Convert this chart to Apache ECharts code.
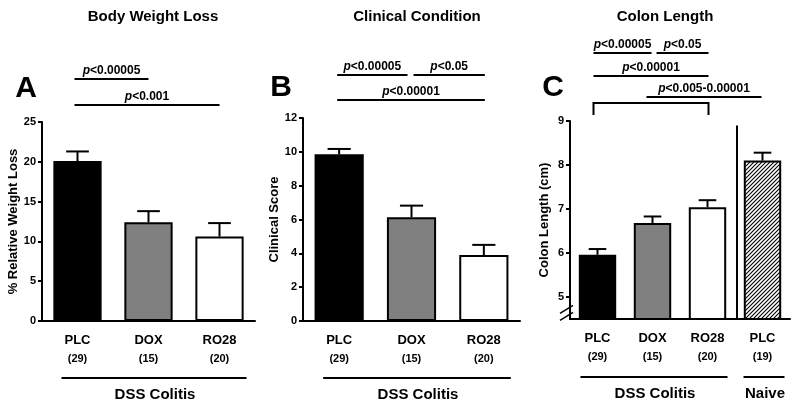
<!DOCTYPE html>
<html><head><meta charset="utf-8">
<script src="https://cdn.jsdelivr.net/npm/echarts@6/dist/echarts.min.js"></script>
<style>html,body{margin:0;padding:0;background:#fff}#main{width:800px;height:410px}</style>
</head><body><div id="main"></div>
<script>
// ---------- data ----------
const catsAB = ['PLC', 'DOX', 'RO28'];
const nAB = ['29', '15', '20'];
const weightLoss = [20.1, 12.4, 10.6];
const weightLossSem = [1.2, 1.4, 1.7];
const clinicalScore = [9.85, 6.13, 3.9];
const clinicalSem = [0.32, 0.69, 0.6];
const catsC = ['PLC', 'DOX', 'RO28', 'PLC'];
const nC = ['29', '15', '20', '19'];
const colonLength = [5.96, 6.68, 7.04, 8.1];
const colonSem = [0.13, 0.15, 0.16, 0.18];
const ticksA = [0, 5, 10, 15, 20, 25];
const ticksB = [0, 2, 4, 6, 8, 10, 12];
const ticksC = [5, 6, 7, 8, 9];
const pA = ['<0.00005', '<0.001'];
const pB = ['<0.00005', '<0.05', '<0.00001'];
const pC = ['<0.00005', '<0.05', '<0.00001', '<0.005-0.00001'];
const titles = ['Body Weight Loss', 'Clinical Condition', 'Colon Length'];
const yNames = ['% Relative Weight Loss', 'Clinical Score', 'Colon Length (cm)'];

// ---------- styles ----------
const FONT = '"Liberation Sans", Arial, Helvetica, sans-serif';
const hatch = document.createElement('canvas');
hatch.width = 4; hatch.height = 4;
(function(){
  const c = hatch.getContext('2d');
  c.fillStyle = '#fff'; c.fillRect(0,0,4,4);
  c.strokeStyle = '#000'; c.lineWidth = 1.1;
  c.beginPath();
  c.moveTo(-1,1); c.lineTo(1,-1);
  c.moveTo(0,4); c.lineTo(4,0);
  c.moveTo(3,5); c.lineTo(5,3);
  c.stroke();
})();
const fillsAB = ['#000000', '#808080', '#ffffff'];
const fillsC = ['#000000', '#808080', '#ffffff', {image: hatch, repeat: 'repeat'}];

const catLabels = (cats, ns) => cats.map((c, i) => c + '\n(' + ns[i] + ')');
const labelsAB = catLabels(catsAB, nAB);
const labelsC = catLabels(catsC, nC);

function xAxis(gridIndex, data) {
  return {
    type: 'category', gridIndex, data,
    axisLine: {lineStyle: {color: '#000', width: 2}},
    axisTick: {alignWithLabel: true, length: 4, lineStyle: {color: '#000', width: 2}},
    axisLabel: {
      margin: 10, interval: 0,
      formatter: v => { const p = v.split('\n'); return '{a|' + p[0] + '}\n{b|' + p[1] + '}'; },
      rich: {
        a: {fontFamily: FONT, fontWeight: 'bold', fontSize: 13, color: '#000', lineHeight: 19},
        b: {fontFamily: FONT, fontWeight: 'bold', fontSize: 11, color: '#000', lineHeight: 17}
      }
    }
  };
}
function yAxis(gridIndex, min, max, ticks, name, nameGap) {
  return {
    type: 'value', gridIndex, min, max,
    name, nameLocation: 'middle', nameGap,
    nameTextStyle: {fontFamily: FONT, fontWeight: 'bold', fontSize: 13, color: '#000'},
    axisLine: {show: true, lineStyle: {color: '#000', width: 2}},
    axisTick: {show: true, length: 4, customValues: ticks, lineStyle: {color: '#000', width: 2}},
    axisLabel: {customValues: ticks, margin: 6, fontFamily: FONT, fontWeight: 'bold', fontSize: 11, color: '#000'},
    splitLine: {show: false}
  };
}
function barSeries(idx, values, fills) {
  return {
    type: 'bar', xAxisIndex: idx, yAxisIndex: idx, barWidth: '68%',
    data: values.map((v, i) => ({value: v, itemStyle: {color: fills[i]}})),
    itemStyle: {borderColor: '#000', borderWidth: 2},
    emphasis: {disabled: true}, animation: false
  };
}
function errRender(params, api) {
  const x = api.value(0), top = api.value(1), hi = api.value(2);
  const p0 = api.coord([x, top]), p1 = api.coord([x, hi]);
  const hw = api.size([1, 0])[0] * 0.16;
  const st = {stroke: '#000', lineWidth: 2};
  return {type: 'group', children: [
    {type: 'line', shape: {x1: p0[0], y1: p0[1], x2: p1[0], y2: p1[1]}, style: st},
    {type: 'line', shape: {x1: p1[0] - hw, y1: p1[1], x2: p1[0] + hw, y2: p1[1]}, style: st}
  ]};
}
function errSeries(idx, values, sem) {
  return {
    type: 'custom', xAxisIndex: idx, yAxisIndex: idx, renderItem: errRender,
    data: values.map((v, i) => [i, v, v + sem[i]]), z: 3, animation: false, silent: true
  };
}

const chart = echarts.init(document.getElementById('main'));
chart.setOption({
  animation: false,
  textStyle: {fontFamily: FONT},
  title: [
    {text: titles[0], left: 148, top: 4, textAlign: 'center'},
    {text: titles[1], left: 412, top: 4, textAlign: 'center'},
    {text: titles[2], left: 660, top: 4, textAlign: 'center'}
  ].map(t => Object.assign(t, {textStyle: {fontFamily: FONT, fontWeight: 'bold', fontSize: 15, color: '#000'}})),
  grid: [
    {left: 42, top: 122, width: 213, height: 199},
    {left: 303, top: 118, width: 217, height: 203},
    {left: 570, top: 121, width: 220, height: 198}
  ],
  xAxis: [xAxis(0, labelsAB), xAxis(1, labelsAB), xAxis(2, labelsC)],
  yAxis: [
    yAxis(0, 0, 25, ticksA, yNames[0], 22),
    yAxis(1, 0, 12, ticksB, yNames[1], 20),
    yAxis(2, 4.5, 9, ticksC, yNames[2], 19)
  ],
  series: [
    barSeries(0, weightLoss, fillsAB), errSeries(0, weightLoss, weightLossSem),
    barSeries(1, clinicalScore, fillsAB), errSeries(1, clinicalScore, clinicalSem),
    barSeries(2, colonLength, fillsC), errSeries(2, colonLength, colonSem)
  ]
});

// ---------- annotations (positioned through the axes) ----------
const cx = (g, i) => chart.convertToPixel({xAxisIndex: g}, i);
const cy = (g, v) => chart.convertToPixel({yAxisIndex: g}, v);
const band = g => cx(g, 1) - cx(g, 0);
const G = [];
const ln = (x1, y1, x2, y2, w) => G.push({type: 'line', shape: {x1, y1, x2, y2}, style: {stroke: '#000', lineWidth: w || 2}, silent: true});
const txt = (x, y, text, size, align) => G.push({type: 'text', x, y, silent: true,
  style: {text, fontFamily: FONT, fontWeight: 'bold', fontSize: size, fill: '#000', align: align || 'center', verticalAlign: 'middle'}});
const pTxt = (x, y, val) => G.push({type: 'text', x, y, silent: true,
  style: {text: '{i|p}{n|' + val + '}', align: 'center', verticalAlign: 'middle',
    rich: {i: {fontFamily: FONT, fontWeight: 'bold', fontStyle: 'italic', fontSize: 12, fill: '#000'},
           n: {fontFamily: FONT, fontWeight: 'bold', fontSize: 12, fill: '#000'}}}});
function sig(g, i, j, y, val, dl, dr) {
  const x1 = cx(g, i) + dl, x2 = cx(g, j) + dr;
  ln(x1, y, x2, y, 2);
  pTxt((x1 + x2) / 2, y - 8.5, val);
}
// panel letters
txt(26, 89, 'A', 30); txt(281, 88, 'B', 30); txt(553, 88, 'C', 30);
// A
sig(0, 0, 1, 79, pA[0], -3, 0);
sig(0, 0, 2, 105, pA[1], -3, 0);
// B
sig(1, 0, 1, 75, pB[0], -2, -4);
sig(1, 1, 2, 75, pB[1], 2, 1);
sig(1, 0, 2, 100, pB[2], -2, 1);
// C
sig(2, 0, 1, 53, pC[0], -4, -1);
sig(2, 1, 2, 53, pC[1], 4, 1);
sig(2, 0, 2, 76, pC[2], -4, 1);
sig(2, 1, 3, 97, pC[3], -6, -1);
// bracket
(function(){
  const x1 = cx(2, 0) - 4, x2 = cx(2, 2) + 1;
  G.push({type: 'polyline', shape: {points: [[x1, 115], [x1, 103], [x2, 103], [x2, 115]]}, style: {stroke: '#000', lineWidth: 2, fill: null}, silent: true});
})();
// separator in C
(function(){
  const xs = (cx(2, 2) + cx(2, 3)) / 2 + 2;
  ln(xs, cy(2, 8.9), xs, cy(2, 4.5), 2);
})();
// axis break marks in C
(function(){
  const xa = chart.convertToPixel({xAxisIndex: 2}, 0) - band(2) / 2 - 3;
  const yb = cy(2, 4.72);
  ln(xa - 7, yb + 4, xa + 6, yb - 4, 1.5);
  ln(xa - 7, yb + 11, xa + 6, yb + 3, 1.5);
})();
// group labels
function group(g, i, j, dl, dr, y, label) {
  const x1 = cx(g, i) + dl, x2 = cx(g, j) + dr;
  ln(x1, y, x2, y, 2);
  txt((x1 + x2) / 2 + 1, y + 17, label, 15);
}
group(0, 0, 2, -16, 27, 378, 'DSS Colitis');
group(1, 0, 2, -16, 27, 378, 'DSS Colitis');
group(2, 0, 2, -17, 20, 377, 'DSS Colitis');
group(2, 3, 3, -19, 22, 377, 'Naive');
chart.setOption({graphic: G});
</script></body></html>
